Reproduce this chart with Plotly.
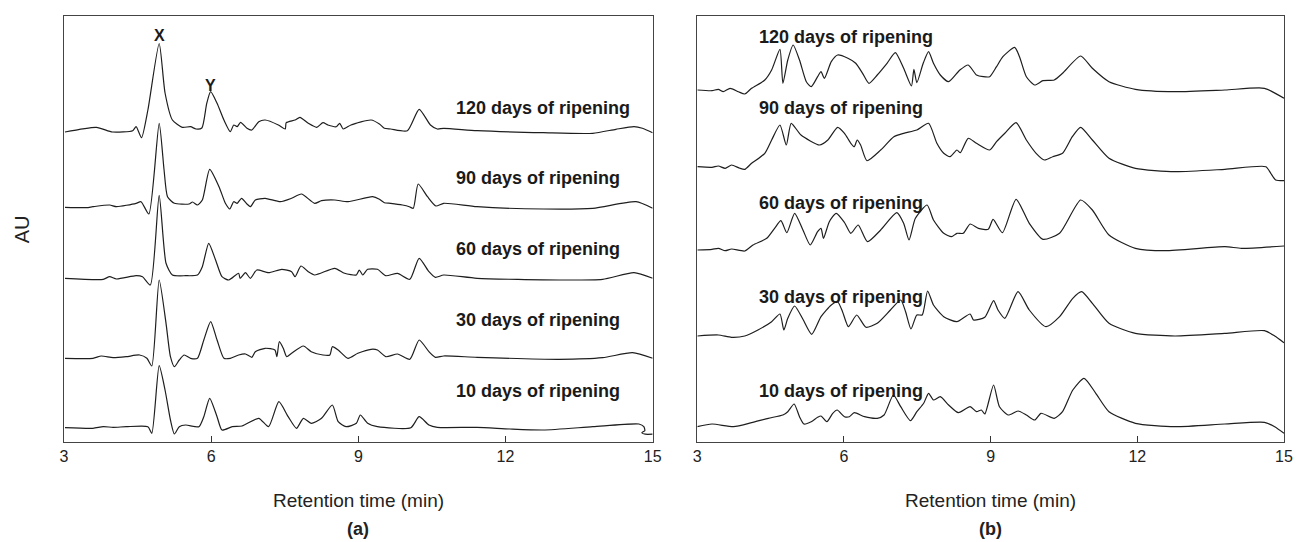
import plotly.graph_objects as go

# ---------------- data: panel (a) ----------------
a120_t = [3.02, 3.66, 3.99, 4.40, 4.47, 4.58, 4.71, 4.94, 5.06, 5.21, 5.41, 5.58, 5.69, 5.81, 5.91, 5.99, 6.12, 6.26, 6.39, 6.46, 6.53, 6.60, 6.73, 6.83, 6.97, 7.10, 7.37, 7.51, 7.53, 7.71, 7.81, 7.98, 8.15, 8.28, 8.38, 8.55, 8.62, 8.69, 8.85, 9.26, 9.43, 9.53, 9.66, 10.00, 10.24, 10.47, 10.61, 10.74, 11.42, 12.77, 13.78, 14.25, 14.62, 14.79, 15.0]
a120_v = [0, 4.7, 0, 1.3, 5.3, -5.7, 22, 88.5, 39, 12, 4.7, 5.3, 3, 4, 28.7, 40.3, 28.7, 12, 0.3, 7, 5.3, 9.7, 3.7, 2, 10.3, 12, 7, 3, 9.3, 12, 14.7, 8.7, 4.7, 9.3, 7, 5.3, 8.7, 3, 7, 12, 8, 3.7, 3, 1.3, 22.7, 7, 3, 3.7, 1.3, -0.7, -1.3, 2.7, 5.3, 3.7, -0.7]

a90_t = [3.02, 3.46, 3.59, 3.93, 4.07, 4.47, 4.57, 4.73, 4.94, 5.04, 5.11, 5.25, 5.55, 5.62, 5.72, 5.82, 5.97, 6.16, 6.29, 6.38, 6.46, 6.53, 6.62, 6.73, 6.80, 6.90, 7.10, 7.41, 7.64, 7.84, 8.11, 8.25, 8.52, 8.79, 9.29, 9.43, 9.53, 9.66, 9.90, 10.04, 10.12, 10.22, 10.41, 10.58, 10.74, 11.42, 12.77, 13.78, 14.66, 15.0]
a90_v = [0, -0.3, 0.6, 2.3, 0.6, 4, 5.6, -6.7, 84, 37.3, 10.6, 4, 3.3, 5.3, 2.3, 7.3, 38, 20.6, 4, -1.7, 5.6, 4, 9, 3.3, 0.6, 7.3, 9, 5.6, 9, 13.3, 4, 6.6, 7.3, 5.6, 10.6, 8, 4.6, 4, 2.3, 0.6, -1, 23.3, 10.6, 1.3, 4, 0.6, -1.7, -1, 5.6, -1]

a60_t = [3.02, 3.80, 3.93, 4.07, 4.47, 4.60, 4.76, 4.94, 5.08, 5.21, 5.48, 5.72, 5.82, 5.95, 6.09, 6.22, 6.36, 6.56, 6.59, 6.70, 6.80, 6.93, 7.17, 7.44, 7.64, 7.71, 7.83, 7.98, 8.11, 8.52, 8.72, 8.96, 9.02, 9.09, 9.19, 9.39, 9.56, 9.80, 10.05, 10.24, 10.44, 10.57, 10.74, 11.42, 13.10, 13.98, 14.62, 15.0]
a60_v = [0, -1, 1.6, -0.7, 2.6, 1.6, -6.7, 83, 15, 3.3, 2.6, 3.3, 11.6, 35, 18.3, 1.6, -1.7, 5, 0, 5.6, 0, 8.3, 5.6, 9, 6.6, 1.6, 12.3, 6.6, 3.3, 10, 5, 3.3, 8.3, 3.3, 9, 9, 2.6, 5, -1, 20, 6.6, 1, 3.3, 0, -1.7, -1, 5.6, 0]

a30_t = [3.02, 3.59, 3.76, 4.00, 4.27, 4.54, 4.69, 4.79, 4.94, 5.08, 5.17, 5.25, 5.35, 5.45, 5.58, 5.72, 5.85, 5.99, 6.12, 6.26, 6.39, 6.56, 6.70, 6.83, 6.90, 7.10, 7.30, 7.34, 7.39, 7.47, 7.54, 7.64, 7.88, 8.04, 8.28, 8.42, 8.47, 8.59, 8.79, 8.99, 9.26, 9.39, 9.56, 9.80, 10.05, 10.24, 10.44, 10.57, 10.74, 11.42, 13.10, 13.98, 14.59, 15.0]
a30_v = [0, 0, 2.3, 0.6, 1.6, 3.3, 0, -7.7, 78.3, 35, 1.6, -8.4, -1.7, 3.3, 0, 0, 18.3, 36.6, 18.3, 0, 0, 3.3, 4.3, 1, 6.6, 10, 8.3, 1.6, 16.6, 10, 1.6, 5, 12.3, 6.6, 3.3, 3.3, 11.6, 8.3, 0, 5, 9, 8.3, 1.6, 4.3, -1, 18.3, 6.6, 1, 2.3, 1, -1, 0.6, 5.6, 0]

a10_t = [3.02, 3.59, 3.80, 4.00, 4.27, 4.71, 4.79, 4.94, 5.06, 5.17, 5.25, 5.35, 5.48, 5.75, 5.85, 5.97, 6.12, 6.22, 6.43, 6.63, 6.97, 7.17, 7.38, 7.57, 7.74, 7.88, 8.04, 8.25, 8.47, 8.59, 8.75, 8.96, 9.04, 9.19, 9.39, 10.07, 10.24, 10.44, 10.61, 11.42, 12.09, 12.77, 13.78, 14.72, 14.82, 14.84, 14.78, 14.85, 15.0]
a10_v = [0, -0.6, 1, 0.4, 1, 1, -5.6, 62, 37.7, 7.7, -6.3, 1, 2.7, 1, 11, 29.4, 11, -2.3, 1, 1.7, 9.4, 1, 26, 11, -0.6, 9.4, 4.4, 9.4, 22.7, 6, 1, 4.4, 12.7, 4.4, 1, 0, 11, 2.7, 0.4, 0.4, -1.3, -2.3, 1, 3.7, 1, -3, -5, -6.5, -6.5]

# ---------------- data: panel (b) ----------------
b120_t = [3.0, 3.30, 3.43, 3.53, 3.67, 3.84, 3.97, 4.11, 4.38, 4.52, 4.69, 4.75, 4.85, 4.96, 5.09, 5.23, 5.33, 5.46, 5.53, 5.60, 5.74, 5.87, 6.08, 6.24, 6.38, 6.51, 6.68, 6.88, 7.05, 7.22, 7.38, 7.43, 7.49, 7.62, 7.73, 7.83, 7.97, 8.14, 8.37, 8.54, 8.71, 8.85, 8.98, 9.12, 9.25, 9.49, 9.59, 9.73, 9.90, 10.07, 10.30, 10.47, 10.84, 11.08, 11.42, 11.96, 12.77, 13.79, 14.60, 15.0]
b120_v = [0, -0.7, 0.7, -1.7, 1.7, -1.7, -4, 1.7, 10, 20, 40.7, 6.7, 30, 45, 30, 8.3, 3.3, 13.3, 18.3, 11.7, 28.3, 35, 31.7, 26.7, 16.7, 6.7, 15, 26.7, 37.3, 21.7, 4, 20.7, 7.3, 26.7, 38.3, 26.7, 15, 8.3, 20, 25, 15, 13.3, 13.3, 23.3, 33.3, 42.7, 33.3, 13.3, 5, 9.3, 10, 16.7, 34, 21.7, 8.3, 0.7, -1.7, 0, 1.7, -8.3]

b90_t = [3.0, 3.30, 3.43, 3.57, 3.70, 3.87, 3.97, 4.11, 4.38, 4.52, 4.69, 4.82, 4.92, 5.12, 5.50, 5.67, 5.87, 6.01, 6.14, 6.21, 6.27, 6.34, 6.47, 6.75, 7.02, 7.22, 7.49, 7.73, 7.90, 8.04, 8.17, 8.31, 8.38, 8.54, 8.71, 8.98, 9.12, 9.29, 9.52, 9.73, 9.93, 10.10, 10.27, 10.47, 10.67, 10.84, 11.08, 11.42, 11.96, 12.77, 13.79, 14.63, 14.73, 14.83, 15.0]
b90_v = [0, -0.6, 0.7, -1.6, 1.7, -1.6, -2.6, 3.4, 13.4, 26.7, 41.7, 21.7, 43.4, 31.7, 21.7, 26.7, 39.4, 33.4, 23.4, 20, 26.7, 21.7, 6, 16.7, 30, 33.4, 36.7, 43.4, 23.4, 13.4, 10, 16.7, 14, 28.4, 23.4, 16.7, 25, 33.4, 44, 26.7, 13.4, 6.7, 10, 13.4, 30, 39.4, 26.7, 8.4, -1.6, -5, -2.6, 0, -6.6, -13.3, -14]

b60_t = [3.0, 3.30, 3.43, 3.57, 3.70, 3.97, 4.14, 4.42, 4.58, 4.71, 4.83, 4.99, 5.16, 5.31, 5.46, 5.53, 5.58, 5.70, 5.84, 6.01, 6.14, 6.29, 6.48, 6.75, 7.08, 7.22, 7.33, 7.46, 7.70, 7.83, 8.04, 8.20, 8.31, 8.44, 8.58, 8.75, 8.95, 9.05, 9.24, 9.52, 9.79, 10.07, 10.41, 10.84, 11.08, 11.42, 11.96, 12.57, 13.79, 14.13, 15.0]
b60_v = [0, 0.7, 1.7, -0.7, 1, -1, 5, 11.7, 21.7, 29.3, 17.3, 36.7, 20, 5, 18.3, 21.7, 11.7, 28.3, 36.7, 27.5, 16.7, 25, 8.3, 20, 37.3, 26.7, 10, 31.7, 45, 30, 16.7, 13.3, 16.7, 16.7, 26, 21.7, 20.7, 30.7, 17.3, 50.7, 26.7, 10.7, 16.7, 50, 40, 15, 1.7, -0.7, 3.3, 1.7, 4]

b30_t = [3.0, 3.43, 3.70, 3.97, 4.24, 4.52, 4.69, 4.77, 4.85, 4.99, 5.16, 5.34, 5.53, 5.74, 5.87, 5.97, 6.09, 6.26, 6.45, 6.68, 6.95, 7.16, 7.26, 7.37, 7.49, 7.60, 7.71, 7.83, 8.04, 8.31, 8.58, 8.65, 8.88, 9.06, 9.15, 9.29, 9.56, 9.79, 10.13, 10.41, 10.68, 10.86, 11.08, 11.42, 11.96, 12.77, 13.79, 14.60, 14.81, 15.0]
b30_v = [0, 1, -1.3, 0, 6, 14.3, 22, 6, 17.7, 30, 16.7, 1.7, 19.3, 31, 34.3, 24.3, 9.3, 21, 8.7, 12.7, 26, 36, 24.3, 7, 21, 21, 45, 31, 19.3, 14.3, 22, 16, 18.7, 35.3, 26, 17.7, 44.3, 26, 9.3, 19.3, 37.7, 44.3, 32.7, 12.7, 2.7, 0, 2.7, 5.3, 0, -6.7]

b10_t = [3.0, 3.30, 3.74, 4.11, 4.45, 4.75, 4.85, 4.98, 5.09, 5.18, 5.33, 5.46, 5.53, 5.65, 5.77, 5.86, 6.01, 6.11, 6.21, 6.42, 6.68, 6.82, 7.01, 7.16, 7.36, 7.49, 7.63, 7.73, 7.83, 7.97, 8.14, 8.34, 8.58, 8.71, 8.81, 8.88, 9.06, 9.18, 9.36, 9.56, 9.73, 9.90, 10.03, 10.30, 10.47, 10.68, 10.91, 11.15, 11.42, 11.96, 12.77, 13.79, 14.60, 14.81, 15.0]
b10_v = [0, 2.7, 0, 4, 8.4, 11.7, 15, 22.7, 10, 2.7, 5, 9.4, 10.7, 5, 13.4, 16.7, 10, 10, 14, 10, 8.4, 11.7, 31.7, 20, 6, 15, 23.4, 33.4, 26.7, 30, 21.7, 14, 20, 15, 16.7, 12.7, 41.7, 20, 11.7, 15.7, 11.7, 6.7, 13.4, 8.4, 15, 36.7, 48.4, 33.4, 15, 3.4, 0, 2.7, 4.4, 0, -6.6]

series_names = ["120 days of ripening", "90 days of ripening", "60 days of ripening",
                "30 days of ripening", "10 days of ripening"]
a_series = [(a120_t, a120_v), (a90_t, a90_v), (a60_t, a60_v), (a30_t, a30_v), (a10_t, a10_v)]
b_series = [(b120_t, b120_v), (b90_t, b90_v), (b60_t, b60_v), (b30_t, b30_v), (b10_t, b10_v)]
a_offsets = [310, 234.7, 163.7, 83.7, 14.3]
b_offsets = [352, 275.3, 192, 106, 15.3]

x_ticks = [3, 6, 9, 12, 15]

# ---------------- figure ----------------
LINE = "#1e1e1e"
fig = go.Figure()
for (t, v), off, name in zip(a_series, a_offsets, series_names):
    fig.add_trace(go.Scatter(x=t, y=[off + val for val in v], mode="lines", name=name,
                             line=dict(color=LINE, width=1.2, shape="spline", smoothing=0.6),
                             xaxis="x", yaxis="y", showlegend=False, hoverinfo="skip"))
for (t, v), off, name in zip(b_series, b_offsets, series_names):
    fig.add_trace(go.Scatter(x=t, y=[off + val for val in v], mode="lines", name=name,
                             line=dict(color=LINE, width=1.2, shape="spline", smoothing=0.6),
                             xaxis="x2", yaxis="y2", showlegend=False, hoverinfo="skip"))

NARROW = "Liberation Sans Narrow, Arial Narrow, Liberation Sans, Arial, sans-serif"
BOLD = "Liberation Sans, Arial, sans-serif"

axis_common = dict(range=[3, 15], tickvals=x_ticks, ticks="inside", ticklen=6, tickwidth=1,
                   tickcolor="#333", showline=True, linecolor="#444", linewidth=1.3, mirror=True,
                   showgrid=False, zeroline=False,
                   tickfont=dict(family=NARROW, size=16, color="#222"))
yaxis_common = dict(range=[0, 426], showticklabels=False, ticks="", showline=True,
                    linecolor="#444", linewidth=1.3, mirror=True, showgrid=False, zeroline=False)

W, H = 1305, 542
ml, mr, mt, mb = 64, 12, 16, 100
pw = W - ml - mr
dom_a = [0, (657 - 64) / pw]
dom_b = [(702 - 64) / pw, 1]

fig.update_layout(
    width=W, height=H, margin=dict(l=ml, r=mr, t=mt, b=mb),
    paper_bgcolor="white", plot_bgcolor="white",
    xaxis=dict(domain=dom_a, anchor="y", **axis_common),
    yaxis=dict(domain=[0, 1], anchor="x", **yaxis_common),
    xaxis2=dict(domain=dom_b, anchor="y2", **axis_common),
    yaxis2=dict(domain=[0, 1], anchor="x2", **yaxis_common),
)

ann = []
a_label_y = [334, 264, 192.7, 122, 51]
b_label_y = [404.7, 333.7, 239.3, 145.3, 51]
for name, y in zip(series_names, a_label_y):
    ann.append(dict(x=10.95, y=y, xref="x", yref="y", text=f"<b>{name}</b>", showarrow=False,
                    xanchor="left", yanchor="middle", font=dict(family=BOLD, size=18, color="#1a1a1a")))
for name, y in zip(series_names, b_label_y):
    ann.append(dict(x=4.22, y=y, xref="x2", yref="y2", text=f"<b>{name}</b>", showarrow=False,
                    xanchor="left", yanchor="middle", font=dict(family=BOLD, size=18, color="#1a1a1a")))
ann.append(dict(x=4.94, y=407, xref="x", yref="y", text="<b>X</b>", showarrow=False,
                xanchor="center", yanchor="middle", font=dict(family=BOLD, size=16, color="#1a1a1a")))
ann.append(dict(x=5.98, y=357, xref="x", yref="y", text="<b>Y</b>", showarrow=False,
                xanchor="center", yanchor="middle", font=dict(family=BOLD, size=16, color="#1a1a1a")))
for xr, lab in (("x", "(a)"), ("x2", "(b)")):
    ann.append(dict(x=9, y=-58 / 426, xref=xr, yref="paper", text="Retention time (min)", showarrow=False,
                    xanchor="center", yanchor="middle", font=dict(family=NARROW, size=19, color="#222")))
    ann.append(dict(x=9, y=-87 / 426, xref=xr, yref="paper", text=f"<b>{lab}</b>", showarrow=False,
                    xanchor="center", yanchor="middle", font=dict(family=NARROW, size=18, color="#222")))
ann.append(dict(x=-42 / pw, y=0.5, xref="paper", yref="paper", text="AU", showarrow=False,
                textangle=-90, xanchor="center", yanchor="middle",
                font=dict(family=NARROW, size=20, color="#222")))
fig.update_layout(annotations=ann)

fig.write_html("out.html")
